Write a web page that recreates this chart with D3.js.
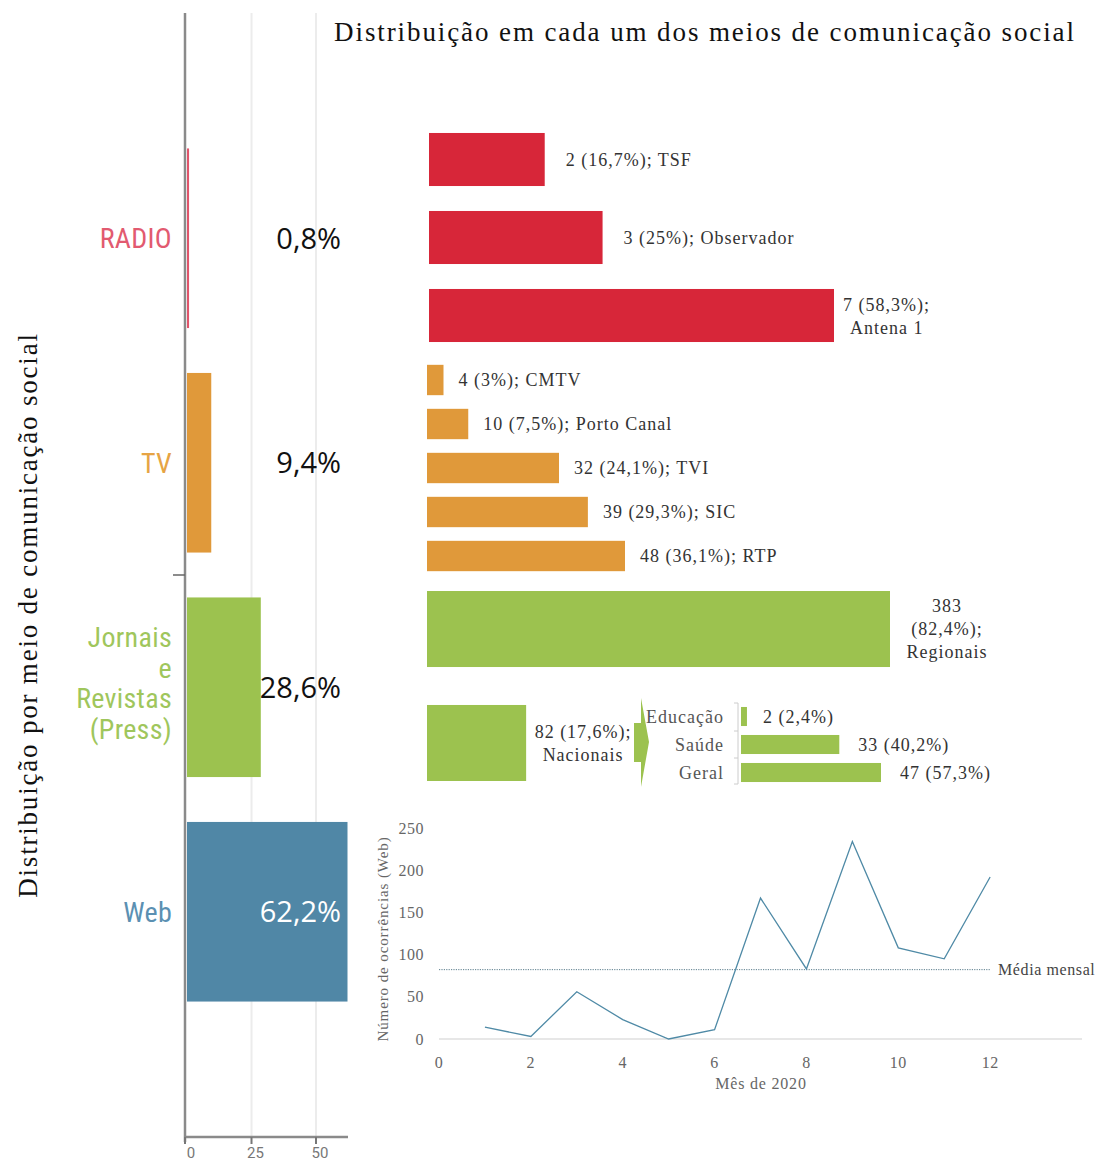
<!DOCTYPE html>
<html><head><meta charset="utf-8">
<script src="https://cdn.jsdelivr.net/npm/d3@7"></script>
<style>body{margin:0;background:#fff}svg{display:block}</style>
</head><body>
<script>
// ---- data ----
const mediaCategories = ["RADIO", "TV", "Press", "Web"];
const mediaShares = [0.8, 9.4, 28.6, 62.2];
const mediaShareLabels = ["0,8%", "9,4%", "28,6%", "62,2%"];
const leftTicks = [0, 25, 50];

const radioNames = ["TSF", "Observador", "Antena 1"];
const radioValues = [2, 3, 7];
const radioPct = ["16,7%", "25%", "58,3%"];

const tvNames = ["CMTV", "Porto Canal", "TVI", "SIC", "RTP"];
const tvValues = [4, 10, 32, 39, 48];
const tvPct = ["3%", "7,5%", "24,1%", "29,3%", "36,1%"];

const pressNames = ["Regionais", "Nacionais"];
const pressValues = [383, 82];
const pressPct = ["82,4%", "17,6%"];

const nacNames = ["Educação", "Saúde", "Geral"];
const nacValues = [2, 33, 47];
const nacPct = ["2,4%", "40,2%", "57,3%"];

const months = [1,2,3,4,5,6,7,8,9,10,11,12];
const webMonthly = [14, 3, 56, 23, 0, 11, 167, 83, 234, 108, 95, 192];
const lineXTicks = [0, 2, 4, 6, 8, 10, 12];
const lineYTicks = [0, 50, 100, 150, 200, 250];

// ---- styles ----
const colRed = "#d72639", colOrange = "#e0993a", colGreen = "#9cc24f", colBlue = "#5087a6";
const catColors = {RADIO: "#e0566c", TV: colOrange, Press: colGreen, Web: colBlue};
const catLabelColors = {RADIO: "#e25a70", TV: "#e6a444", Press: "#9fc65c", Web: "#5b90b2"};
const serif = "'Liberation Serif', 'DejaVu Serif', serif";
const sans = "Roboto, 'Noto Sans', sans-serif";

const svg = d3.select("body").append("svg").attr("width", 1101).attr("height", 1164);

// ---- left chart ----
const xL = d3.scaleLinear().domain([0, 62.2]).range([187, 347.5]);
const yL = d3.scaleBand().domain(mediaCategories).range([126, 1024]).paddingInner(0.2).paddingOuter(0.1);

const gL = svg.append("g");
gL.selectAll("line.grid").data(leftTicks.filter(d => d > 0)).join("line")
  .attr("x1", d => xL(d)).attr("x2", d => xL(d)).attr("y1", 13).attr("y2", 1137)
  .attr("stroke", "#ececec").attr("stroke-width", 2);

// axis lines
gL.append("line").attr("x1", 185).attr("x2", 185).attr("y1", 13).attr("y2", 1142).attr("stroke", "#8a8a8a").attr("stroke-width", 2.5);
gL.append("line").attr("x1", 184).attr("x2", 348).attr("y1", 1137).attr("y2", 1137).attr("stroke", "#8a8a8a").attr("stroke-width", 2.5);
const sepY = (yL("TV") + yL.bandwidth() + yL("Press")) / 2;
gL.append("line").attr("x1", 173).attr("x2", 185).attr("y1", sepY).attr("y2", sepY)
  .attr("stroke", "#666").attr("stroke-width", 1.5);
gL.selectAll("line.xt").data(leftTicks).join("line")
  .attr("x1", d => d === 0 ? 185 : xL(d)).attr("x2", d => d === 0 ? 185 : xL(d)).attr("y1", 1137).attr("y2", 1144)
  .attr("stroke", "#777").attr("stroke-width", 2);
gL.selectAll("text.xt").data(leftTicks).join("text")
  .attr("x", d => xL(d) + 4).attr("y", 1158).attr("text-anchor", "middle")
  .attr("font-family", sans).attr("font-size", 15).attr("fill", "#777").text(d => d);

gL.selectAll("rect").data(mediaCategories).join("rect")
  .attr("x", xL(0)).attr("y", d => yL(d))
  .attr("width", (d, i) => Math.max(1.5, xL(mediaShares[i]) - xL(0)))
  .attr("height", yL.bandwidth())
  .attr("fill", d => catColors[d]);

// category labels
const catLines = {RADIO: ["RADIO"], TV: ["TV"], Press: ["Jornais", "e", "Revistas", "(Press)"], Web: ["Web"]};
mediaCategories.forEach(c => {
  const lines = catLines[c];
  const cy = yL(c) + yL.bandwidth() / 2 - (lines.length > 1 ? 4.5 : 0);
  const lh = 30.5;
  const t = gL.append("text").attr("text-anchor", "end").attr("font-family", "'Roboto Condensed', Roboto, sans-serif")
    .attr("font-size", 28).attr("fill", catLabelColors[c]).attr("letter-spacing", 0.3);
  lines.forEach((l, i) => {
    t.append("tspan").attr("x", 172).attr("y", cy + (i - (lines.length - 1) / 2) * lh).attr("dy", "0.36em").text(l);
  });
});
// value labels
gL.selectAll("text.val").data(mediaCategories).join("text")
  .attr("x", 341).attr("y", d => yL(d) + yL.bandwidth() / 2).attr("dy", "0.36em")
  .attr("text-anchor", "end").attr("font-family", "'Open Sans', 'Noto Sans', sans-serif").attr("font-size", 29)
  .attr("fill", d => d === "Web" ? "#fff" : "#111").text((d, i) => mediaShareLabels[i]);

// left title
svg.append("text").attr("transform", "translate(37,615) rotate(-90)").attr("text-anchor", "middle")
  .attr("font-family", serif).attr("font-size", 27).attr("letter-spacing", 1.8).attr("fill", "#111")
  .text("Distribuição por meio de comunicação social");

// main title
svg.append("text").attr("x", 705).attr("y", 41).attr("text-anchor", "middle")
  .attr("font-family", serif).attr("font-size", 27).attr("letter-spacing", 1.9).attr("fill", "#111")
  .text("Distribuição em cada um dos meios de comunicação social");

const labFont = 18, labCol = "#333", labLS = 1;

// ---- radio ----
const xR = d3.scaleLinear().domain([0, 7]).range([429, 834]);
const yR = d3.scaleBand().domain(radioNames).range([120.5, 354.5]).paddingInner(0.32).paddingOuter(0.16);
svg.append("g").selectAll("rect").data(radioNames).join("rect")
  .attr("x", xR(0)).attr("y", d => yR(d)).attr("width", (d, i) => xR(radioValues[i]) - xR(0))
  .attr("height", yR.bandwidth()).attr("fill", colRed);
radioNames.forEach((n, i) => {
  const x = xR(radioValues[i]) + (i === 2 ? 9 : 14);
  const cy = yR(n) + yR.bandwidth() / 2;
  const t = svg.append("text").attr("font-family", serif).attr("font-size", labFont).attr("letter-spacing", labLS).attr("fill", labCol);
  if (i === 2) {
    t.append("tspan").attr("x", x).attr("y", cy - 11).attr("dy", "0.35em").text(`${radioValues[i]} (${radioPct[i]});`);
    t.append("tspan").attr("x", x + 7).attr("y", cy + 12).attr("dy", "0.35em").text(n);
  } else {
    t.append("tspan").attr("x", x + 7).attr("y", cy).attr("dy", "0.35em").text(`${radioValues[i]} (${radioPct[i]}); ${n}`);
  }
});

// ---- TV ----
const xT = d3.scaleLinear().domain([0, 48]).range([427, 625]);
const yT = d3.scaleBand().domain(tvNames).range([358, 578]).paddingInner(0.31).paddingOuter(0.155);
svg.append("g").selectAll("rect").data(tvNames).join("rect")
  .attr("x", xT(0)).attr("y", d => yT(d)).attr("width", (d, i) => xT(tvValues[i]) - xT(0))
  .attr("height", yT.bandwidth()).attr("fill", colOrange);
svg.append("g").selectAll("text").data(tvNames).join("text")
  .attr("x", (d, i) => xT(tvValues[i]) + 15).attr("y", d => yT(d) + yT.bandwidth() / 2).attr("dy", "0.35em")
  .attr("font-family", serif).attr("font-size", labFont).attr("letter-spacing", labLS).attr("fill", labCol)
  .text((d, i) => `${tvValues[i]} (${tvPct[i]}); ${d}`);

// ---- Press ----
const xP = d3.scaleLinear().domain([0, 383]).range([427, 890]);
const yP = d3.scaleBand().domain(pressNames).range([572, 800]).paddingInner(0.333).paddingOuter(0.1667);
svg.append("g").selectAll("rect").data(pressNames).join("rect")
  .attr("x", xP(0)).attr("y", d => yP(d)).attr("width", (d, i) => xP(pressValues[i]) - xP(0))
  .attr("height", yP.bandwidth()).attr("fill", colGreen);
{
  const cy = yP("Regionais") + yP.bandwidth() / 2;
  const t = svg.append("text").attr("text-anchor", "middle").attr("font-family", serif).attr("font-size", labFont).attr("letter-spacing", labLS).attr("fill", labCol);
  [`${pressValues[0]}`, `(${pressPct[0]});`, pressNames[0]].forEach((l, i) =>
    t.append("tspan").attr("x", xP(pressValues[0]) + 57).attr("y", cy + (i - 1) * 23).attr("dy", "0.35em").text(l));
  const cy2 = yP("Nacionais") + yP.bandwidth() / 2;
  const t2 = svg.append("text").attr("text-anchor", "middle").attr("font-family", serif).attr("font-size", labFont).attr("letter-spacing", labLS).attr("fill", labCol);
  [`${pressValues[1]} (${pressPct[1]});`, pressNames[1]].forEach((l, i) =>
    t2.append("tspan").attr("x", xP(pressValues[1]) + 57).attr("y", cy2 + (i - 0.5) * 23).attr("dy", "0.35em").text(l));
}
// arrow
svg.append("path").attr("d", "M641,698 L649,742 L641,787 L641,762 L634,762 L634,723 L641,723 Z").attr("fill", colGreen);

// ---- Nacionais breakdown ----
const xN = d3.scaleLinear().domain([0, 47]).range([741, 881]);
const yN = d3.scaleBand().domain(nacNames).range([702.5, 786.5]).paddingInner(0.32).paddingOuter(0.16);
svg.append("g").selectAll("rect").data(nacNames).join("rect")
  .attr("x", xN(0)).attr("y", d => yN(d)).attr("width", (d, i) => xN(nacValues[i]) - xN(0))
  .attr("height", yN.bandwidth()).attr("fill", colGreen);
svg.append("line").attr("x1", 738).attr("x2", 738).attr("y1", 703).attr("y2", 784).attr("stroke", "#ccc");
[703, 731, 758, 784].forEach(y => svg.append("line").attr("x1", 734).attr("x2", 738).attr("y1", y).attr("y2", y).attr("stroke", "#ccc"));
svg.append("g").selectAll("text").data(nacNames).join("text")
  .attr("x", 724).attr("y", d => yN(d) + yN.bandwidth() / 2).attr("dy", "0.35em").attr("text-anchor", "end")
  .attr("font-family", serif).attr("font-size", labFont).attr("letter-spacing", labLS).attr("fill", "#555").text(d => d);
svg.append("g").selectAll("text").data(nacNames).join("text")
  .attr("x", (d, i) => xN(nacValues[i]) + (i === 0 ? 16 : 19)).attr("y", d => yN(d) + yN.bandwidth() / 2).attr("dy", "0.35em")
  .attr("font-family", serif).attr("font-size", labFont).attr("letter-spacing", labLS).attr("fill", labCol)
  .text((d, i) => `${nacValues[i]} (${nacPct[i]})`);

// ---- line chart ----
const xW = d3.scaleLinear().domain([0, 14]).range([439, 1082]);
const yW = d3.scaleLinear().domain([0, 250]).range([1039, 828]);
const gW = svg.append("g");
gW.append("line").attr("x1", xW(0)).attr("x2", xW(14)).attr("y1", yW(0)).attr("y2", yW(0)).attr("stroke", "#cfcfcf").attr("stroke-width", 1.2);
gW.selectAll("text.yt").data(lineYTicks).join("text")
  .attr("x", 424).attr("y", d => yW(d)).attr("dy", "0.35em").attr("text-anchor", "end")
  .attr("font-family", serif).attr("font-size", 16).attr("letter-spacing", 0.5).attr("fill", "#666").text(d => d);
gW.selectAll("text.xt").data(lineXTicks).join("text")
  .attr("x", d => xW(d)).attr("y", 1062).attr("dy", "0.35em").attr("text-anchor", "middle")
  .attr("font-family", serif).attr("font-size", 16).attr("letter-spacing", 0.5).attr("fill", "#666").text(d => d);
const mean = d3.mean(webMonthly);
gW.append("line").attr("x1", xW(0)).attr("x2", xW(12)).attr("y1", yW(mean)).attr("y2", yW(mean))
  .attr("stroke", "#5a7d8c").attr("stroke-width", 1).attr("stroke-dasharray", "1.2,1.2");
gW.append("text").attr("x", 998).attr("y", yW(mean)).attr("dy", "0.35em")
  .attr("font-family", serif).attr("font-size", 16).attr("letter-spacing", 0.6).attr("fill", "#444").text("Média mensal");
gW.append("path").datum(months.map((m, i) => [m, webMonthly[i]]))
  .attr("d", d3.line().x(d => xW(d[0])).y(d => yW(d[1])))
  .attr("fill", "none").attr("stroke", "#4f8aa6").attr("stroke-width", 1.3);
gW.append("text").attr("transform", "translate(388,939) rotate(-90)").attr("text-anchor", "middle")
  .attr("font-family", serif).attr("font-size", 15).attr("letter-spacing", 0.9).attr("fill", "#666").text("Número de ocorrências (Web)");
gW.append("text").attr("x", 761).attr("y", 1083).attr("dy", "0.35em").attr("text-anchor", "middle")
  .attr("font-family", serif).attr("font-size", 16).attr("letter-spacing", 0.8).attr("fill", "#666").text("Mês de 2020");
</script>
</body></html>
